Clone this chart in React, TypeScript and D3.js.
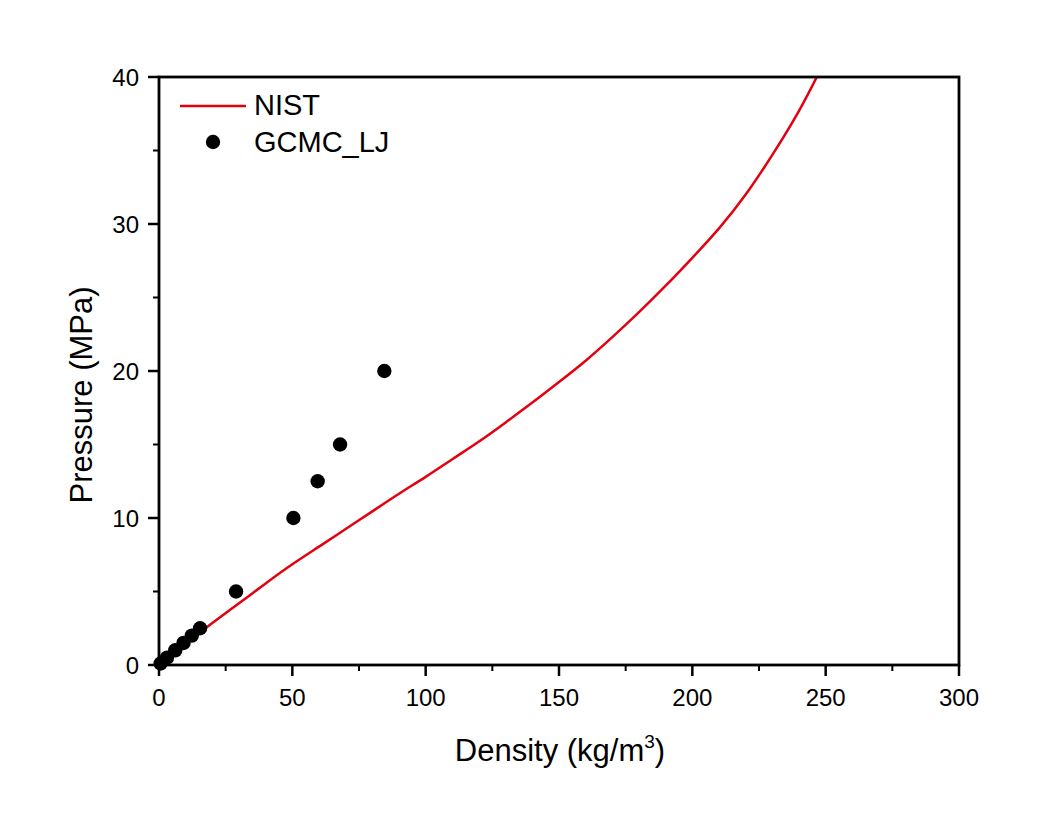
import React, { useEffect, useRef } from "react";
import * as d3 from "d3";

// NIST curve: density (kg/m3) vs pressure (MPa)
const nistDensity = [0, 10, 20, 30, 40, 50, 60, 70, 80, 90, 100, 110, 120, 130, 140, 150, 160, 170, 180, 190, 200, 210, 220, 230, 240, 247.5];
const nistPressure = [0, 1.45, 2.85, 4.2, 5.55, 6.85, 8.05, 9.25, 10.45, 11.65, 12.8, 14.0, 15.2, 16.5, 17.85, 19.25, 20.7, 22.3, 24.0, 25.8, 27.7, 29.7, 32.0, 34.7, 37.7, 40.3];

// GCMC_LJ points
const gcmcDensity = [0.6, 3.0, 6.1, 9.2, 12.3, 15.4, 28.9, 50.4, 59.5, 67.9, 84.5];
const gcmcPressure = [0.1, 0.5, 1.0, 1.5, 2.0, 2.5, 5, 10, 12.5, 15, 20];

const xTicks = [0, 50, 100, 150, 200, 250, 300];
const xMinorTicks = [25, 75, 125, 175, 225, 275];
const yTicks = [0, 10, 20, 30, 40];
const yMinorTicks = [5, 15, 25, 35];

const W = 1046;
const H = 831;
const L = 159, R = 959, T = 77, B = 665;
const FONT = "'Liberation Sans', Arial, sans-serif";

export default function App() {
  const ref = useRef<SVGSVGElement>(null);

  useEffect(() => {
    const svg = d3.select(ref.current);
    svg.selectAll("*").remove();

    const x = d3.scaleLinear().domain([0, 300]).range([L, R]);
    const y = d3.scaleLinear().domain([0, 40]).range([B, T]);

    const defs = svg.append("defs");
    defs.append("clipPath").attr("id", "clip")
      .append("rect").attr("x", L).attr("y", T).attr("width", R - L).attr("height", B - T);

    // NIST line
    const lineData = nistDensity.map((d, i) => [d, nistPressure[i]] as [number, number]);
    const line = d3.line<[number, number]>()
      .x(d => x(d[0])).y(d => y(d[1]))
      .curve(d3.curveNatural);
    svg.append("path")
      .attr("d", line(lineData))
      .attr("fill", "none")
      .attr("stroke", "#e3000f")
      .attr("stroke-width", 2.5)
      .attr("clip-path", "url(#clip)");

    // GCMC points
    svg.append("g").selectAll("circle")
      .data(gcmcDensity.map((d, i) => [d, gcmcPressure[i]]))
      .join("circle")
      .attr("cx", d => x(d[0]))
      .attr("cy", d => y(d[1]))
      .attr("r", 7.2)
      .attr("fill", "#000");

    // Frame
    svg.append("rect")
      .attr("x", L).attr("y", T).attr("width", R - L).attr("height", B - T)
      .attr("fill", "none").attr("stroke", "#000").attr("stroke-width", 2.8);

    // X axis
    const xAxis = svg.append("g");
    xAxis.selectAll("line.major").data(xTicks).join("line")
      .attr("x1", d => x(d)).attr("x2", d => x(d))
      .attr("y1", B).attr("y2", B + 11)
      .attr("stroke", "#000").attr("stroke-width", 2.5);
    xAxis.selectAll("line.minor").data(xMinorTicks).join("line")
      .attr("class", "minor")
      .attr("x1", d => x(d)).attr("x2", d => x(d))
      .attr("y1", B).attr("y2", B + 6)
      .attr("stroke", "#000").attr("stroke-width", 2);
    xAxis.selectAll("text").data(xTicks).join("text")
      .attr("x", d => x(d)).attr("y", 706)
      .attr("text-anchor", "middle")
      .attr("font-family", FONT).attr("font-size", 24)
      .text(d => String(d));

    // Y axis
    const yAxis = svg.append("g");
    yAxis.selectAll("line.major").data(yTicks).join("line")
      .attr("x1", L - 11).attr("x2", L)
      .attr("y1", d => y(d)).attr("y2", d => y(d))
      .attr("stroke", "#000").attr("stroke-width", 2.5);
    yAxis.selectAll("line.minor").data(yMinorTicks).join("line")
      .attr("class", "minor")
      .attr("x1", L - 6).attr("x2", L)
      .attr("y1", d => y(d)).attr("y2", d => y(d))
      .attr("stroke", "#000").attr("stroke-width", 2);
    yAxis.selectAll("text").data(yTicks).join("text")
      .attr("x", 139).attr("y", d => y(d) + 8.5)
      .attr("text-anchor", "end")
      .attr("font-family", FONT).attr("font-size", 24)
      .text(d => String(d));

    // Axis titles
    const xt = svg.append("text")
      .attr("x", 560).attr("y", 761)
      .attr("text-anchor", "middle")
      .attr("font-family", FONT).attr("font-size", 31);
    xt.append("tspan").text("Density (kg/m");
    xt.append("tspan").attr("font-size", 19).attr("dy", -13).text("3");
    xt.append("tspan").attr("dy", 13).text(")");

    svg.append("text")
      .attr("transform", "translate(92,395) rotate(-90)")
      .attr("text-anchor", "middle")
      .attr("font-family", FONT).attr("font-size", 31)
      .text("Pressure (MPa)");

    // Legend
    svg.append("line")
      .attr("x1", 180).attr("x2", 246).attr("y1", 106).attr("y2", 106)
      .attr("stroke", "#e3000f").attr("stroke-width", 2.5);
    svg.append("text")
      .attr("x", 254).attr("y", 115)
      .attr("font-family", FONT).attr("font-size", 29)
      .text("NIST");
    svg.append("circle")
      .attr("cx", 213).attr("cy", 142).attr("r", 7.2).attr("fill", "#000");
    svg.append("text")
      .attr("x", 254).attr("y", 152)
      .attr("font-family", FONT).attr("font-size", 29)
      .text("GCMC_LJ");
  }, []);

  return (
    <svg ref={ref} width={W} height={H} style={{ position: "absolute", left: 0, top: 0, background: "#fff" }} />
  );
}
